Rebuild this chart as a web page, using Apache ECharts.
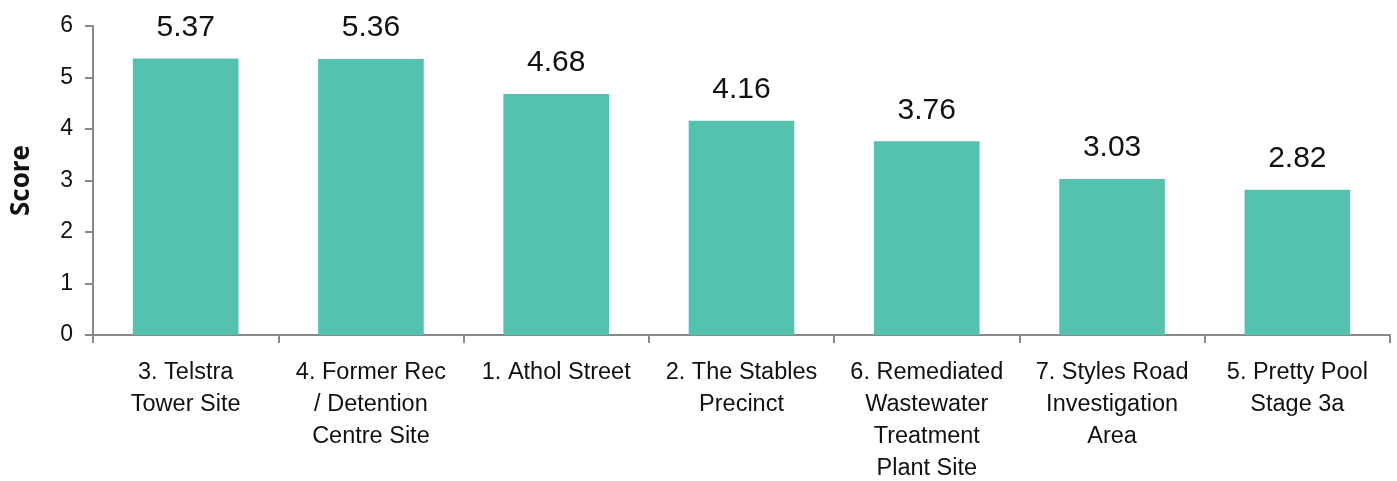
<!DOCTYPE html>
<html>
<head>
<meta charset="utf-8">
<script src="https://cdn.jsdelivr.net/npm/echarts@6/dist/echarts.min.js"></script>
<style>
html,body{margin:0;padding:0;background:#fff;}
#chart{width:1397px;height:481px;}
</style>
</head>
<body>
<div id="chart"></div>
<script>
const categories = [
  "3. Telstra\nTower Site",
  "4. Former Rec\n/ Detention\nCentre Site",
  "1. Athol Street",
  "2. The Stables\nPrecinct",
  "6. Remediated\nWastewater\nTreatment\nPlant Site",
  "7. Styles Road\nInvestigation\nArea",
  "5. Pretty Pool\nStage 3a"
];
const scores = [5.37, 5.36, 4.68, 4.16, 3.76, 3.03, 2.82];
const yTicks = [0, 1, 2, 3, 4, 5, 6];

const chart = echarts.init(document.getElementById('chart'));
const axisColor = '#888888';
chart.setOption({
  animation: false,
  grid: { left: 93, right: 7, top: 26, bottom: 146, containLabel: false, outerBoundsMode: 'none' },
  xAxis: {
    type: 'category',
    data: categories,
    axisLine: { lineStyle: { color: axisColor, width: 2 } },
    axisTick: { show: true, length: 8, lineStyle: { color: axisColor, width: 2 }, alignWithLabel: false },
    axisLabel: {
      interval: 0,
      color: '#111',
      fontFamily: 'Liberation Sans, Arial, sans-serif',
      fontSize: 23.5,
      lineHeight: 32,
      margin: 22
    }
  },
  yAxis: {
    type: 'value',
    min: yTicks[0],
    max: yTicks[yTicks.length - 1],
    interval: 1,
    name: 'Score',
    nameLocation: 'middle',
    nameGap: 58,
    nameTextStyle: { fontFamily: 'Open Sans, sans-serif', fontWeight: 'bold', fontSize: 26, color: '#111' },
    axisLine: { show: true, lineStyle: { color: axisColor, width: 2 } },
    axisTick: { show: true, length: 8, lineStyle: { color: axisColor, width: 2 } },
    splitLine: { show: false },
    axisLabel: {
      color: '#111',
      fontFamily: 'Liberation Sans, Arial, sans-serif',
      fontSize: 23,
      margin: 20
    }
  },
  series: [{
    type: 'bar',
    data: scores,
    barCategoryGap: '43%',
    itemStyle: { color: '#55C1AF' },
    label: {
      show: true,
      position: 'top',
      distance: 16,
      color: '#111',
      fontFamily: 'Liberation Sans, Arial, sans-serif',
      fontSize: 30,
      formatter: p => p.value.toFixed(2)
    }
  }]
});
</script>
</body>
</html>
